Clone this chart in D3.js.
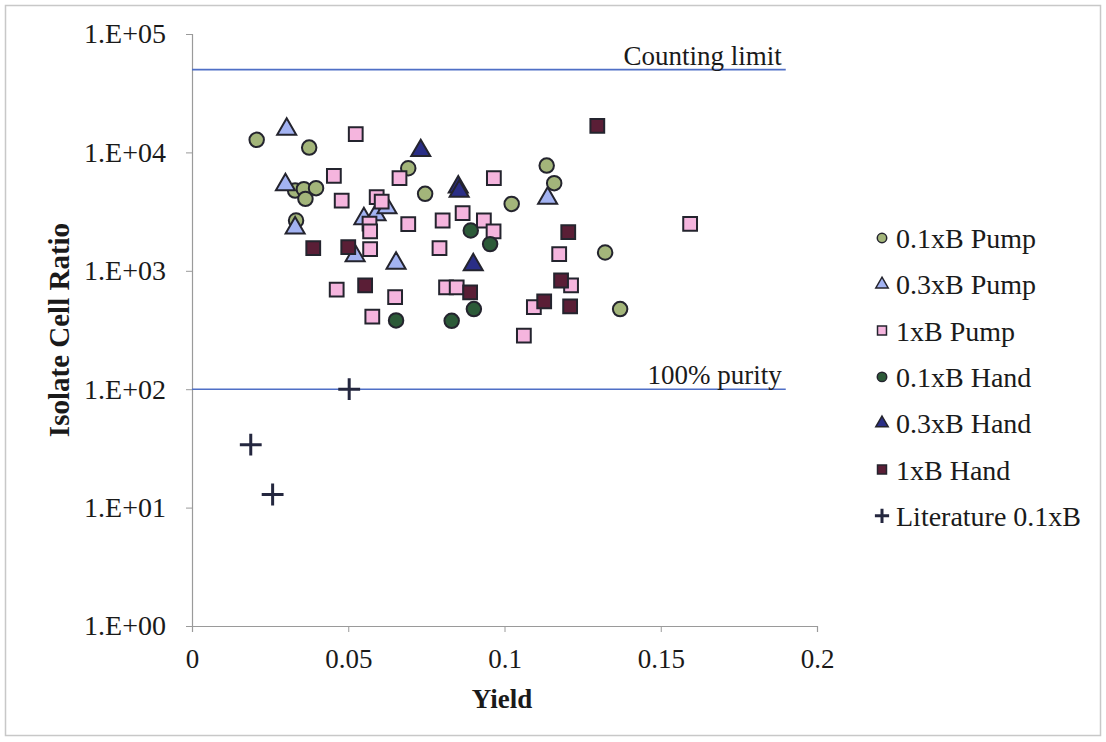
<!DOCTYPE html>
<html>
<head>
<meta charset="utf-8">
<script src="https://cdn.jsdelivr.net/npm/d3@7"></script>
<style>
  body { margin: 0; background: #fff; }
  text { font-family: "Liberation Serif", "Times New Roman", serif; fill: #1a1a1a; }
</style>
</head>
<body>
<div id="chart"></div>
<script>
var width = 1106, height = 742;

// series values, [yield, isolate cell ratio]
var pump01 = [[0.0207, 12760], [0.0375, 10990], [0.033, 4760], [0.0358, 4890], [0.0397, 4990],
  [0.0363, 4050], [0.0333, 2660], [0.0692, 7350], [0.0746, 4470], [0.1023, 3670],
  [0.1135, 7740], [0.1159, 5500], [0.1322, 1428], [0.137, 475]];
var pump03 = [[0.0303, 15700], [0.0299, 5320], [0.033, 2300], [0.055, 2750], [0.0589, 2970],
  [0.0624, 3400], [0.0522, 1340], [0.0653, 1160], [0.1138, 4100]];
var pump1 = [[0.0524, 14250], [0.0454, 6330], [0.0479, 3920], [0.0664, 6060], [0.0966, 6060],
  [0.0591, 4190], [0.0607, 3840], [0.0568, 2500], [0.057, 2150], [0.0692, 2480],
  [0.0802, 2660], [0.0866, 3070], [0.0934, 2660], [0.0965, 2150], [0.057, 1525],
  [0.0792, 1555], [0.065, 600], [0.0577, 411], [0.0813, 723], [0.0847, 723],
  [0.0463, 692], [0.1175, 1383], [0.1213, 752], [0.1094, 494], [0.1062, 283], [0.1594, 2490]];
var hand01 = [[0.0892, 2190], [0.0954, 1680], [0.0902, 475], [0.0831, 378], [0.0653, 381]];
var hand03 = [[0.0732, 10350], [0.0852, 5100], [0.0855, 4700], [0.09, 1124]];
var hand1 = [[0.1297, 16740], [0.0388, 1555], [0.05, 1585], [0.0554, 752], [0.089, 656],
  [0.1204, 2120], [0.1181, 828], [0.1127, 551], [0.121, 500]];
var literature = [[0.0503, 100], [0.0188, 34], [0.0258, 12.9]];

var seriesNames = ["0.1xB Pump", "0.3xB Pump", "1xB Pump", "0.1xB Hand", "0.3xB Hand", "1xB Hand", "Literature 0.1xB"];
var xTicks = [0, 0.05, 0.1, 0.15, 0.2];
var yTicks = [1, 10, 100, 1000, 10000, 100000];
var refLines = [[50000, 0.19, "Counting limit"], [100, 0.19, "100% purity"]];

var series = [
  {name: seriesNames[0], data: pump01, shape: "circle", fill: "#a3b57a"},
  {name: seriesNames[1], data: pump03, shape: "triangle", fill: "#a3b3f2"},
  {name: seriesNames[2], data: pump1, shape: "square", fill: "#f5b5de"},
  {name: seriesNames[3], data: hand01, shape: "circle", fill: "#2c5a38"},
  {name: seriesNames[4], data: hand03, shape: "triangle", fill: "#2a2e86"},
  {name: seriesNames[5], data: hand1, shape: "square", fill: "#5a1e36"},
  {name: seriesNames[6], data: literature, shape: "plus", fill: "#24273f"}
];

var svg = d3.select("#chart").append("svg")
  .attr("width", width)
  .attr("height", height);

// outer frame
svg.append("rect")
  .attr("x", 5.5).attr("y", 5.5)
  .attr("width", 1095).attr("height", 730)
  .attr("fill", "none").attr("stroke", "#c8c8c8").attr("stroke-width", 1.5);

var x = d3.scaleLinear().domain([0, 0.2]).range([192, 817]);
var y = d3.scaleLog().domain([1, 100000]).range([626, 34]);

// axes
var xAxis = svg.append("g")
  .attr("transform", "translate(0,626)")
  .call(d3.axisBottom(x).tickValues(xTicks).tickSize(6).tickPadding(12)
    .tickFormat(function(d) { return d3.format("")(d); }));
var yAxis = svg.append("g")
  .attr("transform", "translate(192,0)")
  .call(d3.axisLeft(y).tickValues(yTicks).tickSize(6).tickPadding(20)
    .tickFormat(function(d) { return "1.E+" + d3.format("02")(Math.round(Math.log10(d))); }));

[xAxis, yAxis].forEach(function(a) {
  a.select(".domain").attr("stroke", "#9a9a9a").attr("stroke-width", 1.2);
  a.selectAll(".tick line").attr("stroke", "#9a9a9a");
  a.selectAll(".tick text")
    .attr("font-family", "Liberation Serif, Times New Roman, serif")
    .attr("font-size", "27px")
    .attr("fill", "#1a1a1a");
});
xAxis.selectAll(".tick text").attr("dy", "0.9em");
yAxis.selectAll(".tick text").attr("font-size", "28px");

// axis titles
svg.append("text")
  .attr("x", 502).attr("y", 708)
  .attr("text-anchor", "middle")
  .attr("font-size", "27px").attr("font-weight", "bold")
  .text("Yield");
svg.append("text")
  .attr("transform", "translate(69,330) rotate(-90)")
  .attr("text-anchor", "middle")
  .attr("font-size", "29px").attr("font-weight", "bold")
  .text("Isolate Cell Ratio");

// reference lines
refLines.forEach(function(r) {
  svg.append("line")
    .attr("x1", x(0)).attr("x2", x(r[1]))
    .attr("y1", y(r[0])).attr("y2", y(r[0]))
    .attr("stroke", "#4f6fc6").attr("stroke-width", 1.6);
  svg.append("text")
    .attr("x", x(r[1]) - 4).attr("y", y(r[0]) - 5)
    .attr("text-anchor", "end")
    .attr("font-size", "27px")
    .text(r[2]);
});

function symbolPath(shape, size) {
  if (shape === "circle") return d3.symbol().type(d3.symbolCircle).size(size)();
  if (shape === "triangle") return d3.symbol().type(d3.symbolTriangle).size(size * 0.95)();
  if (shape === "square") return d3.symbol().type(d3.symbolSquare).size(size * 1.15)();
  var h = Math.sqrt(size) * 0.85;
  return "M" + (-h) + ",0H" + h + "M0," + (-h) + "V" + h;
}

// markers
series.forEach(function(s) {
  svg.append("g").selectAll("path")
    .data(s.data)
    .enter().append("path")
    .attr("transform", function(d) { return "translate(" + x(d[0]) + "," + y(d[1]) + ")"; })
    .attr("d", symbolPath(s.shape, 165))
    .attr("fill", s.shape === "plus" ? "none" : s.fill)
    .attr("stroke", s.shape === "plus" ? s.fill : "#24242e")
    .attr("stroke-width", s.shape === "plus" ? 3 : 2);
});

// legend
var legend = svg.append("g").attr("transform", "translate(882,238)");
var rows = legend.selectAll("g")
  .data(series)
  .enter().append("g")
  .attr("transform", function(d, i) { return "translate(0," + (i * 46.3) + ")"; });
rows.append("path")
  .attr("d", function(d) { return symbolPath(d.shape, 70); })
  .attr("fill", function(d) { return d.shape === "plus" ? "none" : d.fill; })
  .attr("stroke", function(d) { return d.shape === "plus" ? d.fill : "#24242e"; })
  .attr("stroke-width", function(d) { return d.shape === "plus" ? 3 : 1.5; });
rows.append("text")
  .attr("x", 14).attr("y", 10)
  .attr("font-size", "28px")
  .text(function(d) { return d.name; });
</script>
</body>
</html>
